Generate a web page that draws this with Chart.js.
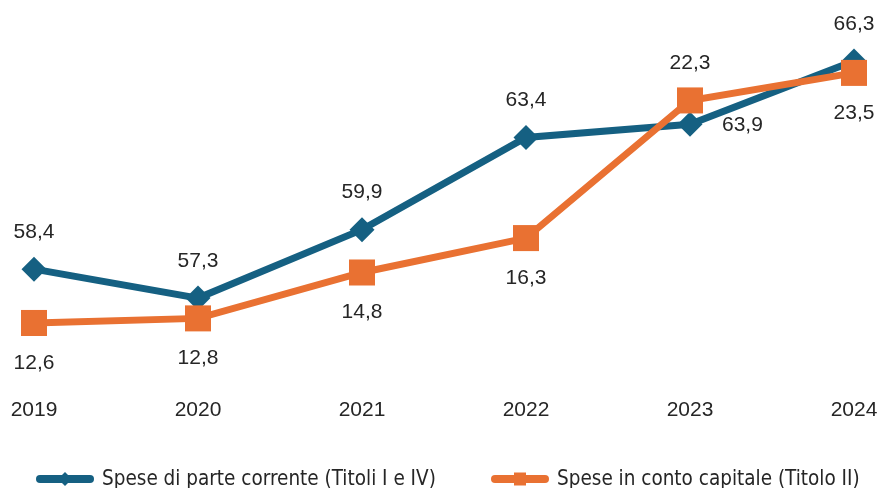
<!DOCTYPE html>
<html>
<head>
<meta charset="utf-8">
<script src="https://cdn.jsdelivr.net/npm/chart.js@4/dist/chart.umd.min.js"></script>
<style>
  html, body { margin: 0; padding: 0; background: #ffffff; }
  #wrap { width: 880px; height: 488px; position: relative; }
</style>
</head>
<body>
<div id="wrap"><canvas id="c" width="880" height="488"></canvas></div>
<script>
// ---- data ----
const years = ['2019', '2020', '2021', '2022', '2023', '2024'];
const correnteName = 'Spese di parte corrente (Titoli I e IV)';
const capitaleName = 'Spese in conto capitale (Titolo II)';
const correnteValues = [58.4, 57.3, 59.9, 63.4, 63.9, 66.3];
const capitaleValues = [12.6, 12.8, 14.8, 16.3, 22.3, 23.5];
// label placement per point
const correnteLabelPos = ['above', 'above', 'above', 'above', 'right', 'above'];
const capitaleLabelPos = ['below', 'below', 'below', 'below', 'above', 'below'];

const BLUE = '#156082';
const ORANGE = '#E97132';
const TEXT = '#262626';
const LABEL_FONT = '21px "Liberation Sans", Arial, sans-serif';
const LEGEND_FONT = '20.5px "DejaVu Sans Condensed", "Liberation Sans Narrow", sans-serif';

const fmt = v => v.toFixed(1).replace('.', ',');

const pointLabels = {
  id: 'pointLabels',
  afterDatasetsDraw(chart) {
    const ctx = chart.ctx;
    ctx.save();
    ctx.font = LABEL_FONT;
    ctx.fillStyle = TEXT;
    ctx.textBaseline = 'middle';
    chart.data.datasets.forEach((ds, i) => {
      const meta = chart.getDatasetMeta(i);
      meta.data.forEach((pt, j) => {
        const pos = ds.labelPos[j];
        const txt = fmt(ds.data[j]);
        let x = pt.x, y = pt.y;
        if (pos === 'above') { ctx.textAlign = 'center'; y -= 37; }
        else if (pos === 'below') { ctx.textAlign = 'center'; y += 40; }
        else { ctx.textAlign = 'left'; x += 32; y += 1; }
        ctx.fillText(txt, x, y);
      });
    });
    ctx.restore();
  }
};

// custom legend: thick line with marker, then text
const lineLegend = {
  id: 'lineLegend',
  afterDraw(chart) {
    const ctx = chart.ctx;
    const o = chart.options.plugins.lineLegend;
    ctx.save();
    ctx.font = LEGEND_FONT;
    const y = o.y;
    chart.data.datasets.forEach((ds, i) => {
      const x = o.starts[i];
      ctx.fillStyle = ds.borderColor;
      ctx.beginPath();
      if (ctx.roundRect) ctx.roundRect(x, y - 4, o.iconWidth, 8, 4); else ctx.rect(x, y - 4, o.iconWidth, 8);
      ctx.fill();
      const cx = x + o.iconWidth / 2;
      ctx.beginPath();
      if (ds.pointStyle === 'rectRot') {
        ctx.moveTo(cx, y - 7); ctx.lineTo(cx + 7, y); ctx.lineTo(cx, y + 7); ctx.lineTo(cx - 7, y); ctx.closePath();
      } else {
        ctx.rect(cx - 6, y - 6.5, 12, 13);
      }
      ctx.fill();
      ctx.fillStyle = TEXT;
      ctx.textAlign = 'left';
      ctx.textBaseline = 'middle';
      ctx.fillText(ds.label, x + o.iconWidth + o.textGap, y + 1);
    });
    ctx.restore();
  }
};

new Chart(document.getElementById('c'), {
  type: 'line',
  data: {
    labels: years,
    datasets: [
      {
        label: correnteName,
        data: correnteValues,
        labelPos: correnteLabelPos,
        yAxisID: 'y',
        borderColor: BLUE,
        backgroundColor: BLUE,
        borderWidth: 7,
        pointStyle: 'rectRot',
        pointRadius: 12.5,
        pointHoverRadius: 12.5,
        pointBorderWidth: 0,
        pointBackgroundColor: BLUE,
        tension: 0,
        order: 2,
        clip: false
      },
      {
        label: capitaleName,
        data: capitaleValues,
        labelPos: capitaleLabelPos,
        yAxisID: 'y1',
        borderColor: ORANGE,
        backgroundColor: ORANGE,
        borderWidth: 7,
        pointStyle: 'rect',
        pointRadius: 18.4,
        pointHoverRadius: 18.4,
        pointBorderWidth: 0,
        pointBackgroundColor: ORANGE,
        tension: 0,
        order: 1,
        clip: false
      }
    ]
  },
  options: {
    responsive: false,
    animation: false,
    devicePixelRatio: 1,
    events: [],
    layout: { autoPadding: false, padding: { top: 30, left: 34, right: 26, bottom: 50 } },
    scales: {
      x: {
        offset: false,
        grid: { display: false, drawTicks: false },
        border: { display: false },
        afterFit(scale) { scale.height = 68; scale.paddingLeft = 0; scale.paddingRight = 0; },
        ticks: {
          padding: 28,
          maxRotation: 0,
          color: TEXT,
          font: { family: '"Liberation Sans", Arial, sans-serif', size: 21 }
        }
      },
      y: { display: false, min: 54.57, max: 67.48 },
      y1: { display: false, min: 10.55, max: 25.37 }
    },
    plugins: {
      tooltip: { enabled: false },
      legend: { display: false },
      lineLegend: { starts: [36, 491], y: 479, iconWidth: 58, textGap: 8 }
    }
  },
  plugins: [pointLabels, lineLegend]
});
</script>
</body>
</html>
